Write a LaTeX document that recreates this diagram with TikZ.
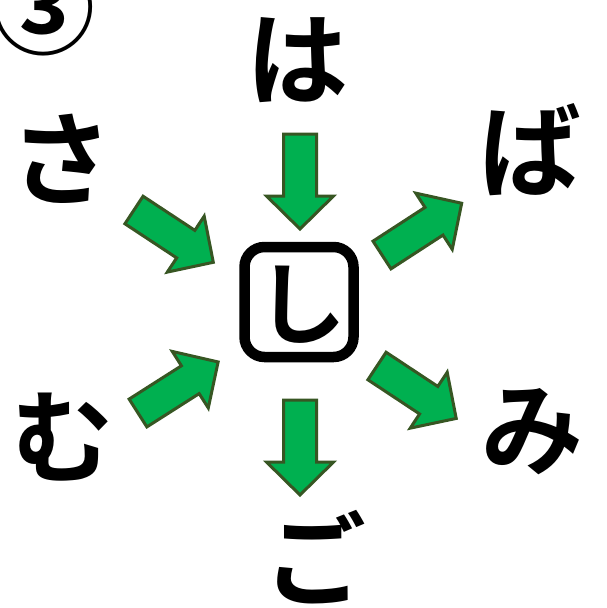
\documentclass[tikz,border=0pt]{standalone}
\usepackage{fontspec}
\newfontfamily\jp{Noto Sans CJK JP Bold}
\definecolor{arrowfill}{HTML}{00B050}
\definecolor{arrowline}{HTML}{375623}
\begin{document}
\begin{tikzpicture}[x=1pt,y=-1pt,
  kana/.style={inner sep=0pt,font=\jp\fontsize{102}{102}\selectfont},
  arrowstyle/.style={fill=arrowfill,draw=arrowline,line width=3pt,line join=miter},
  bigarrow/.pic={\path[arrowstyle] (0,-16.5) -- (62,-16.5) -- (62,-33.5) -- (95,0) -- (62,33.5) -- (62,16.5) -- (0,16.5) -- cycle;}
]
\useasboundingbox[fill=white] (0,0) rectangle (606,608);
% circled number
\node[inner sep=0pt,font=\jp\fontsize{104}{104}\selectfont] (num) at (43,7) {③};
% centre box
\draw[line width=10.5pt,rounded corners=20pt] (244.5,247) rectangle (353.5,357);
\node[kana,font=\jp\fontsize{90}{90}\selectfont] (shi) at (301,305) {し};
% surrounding kana
\node[kana] (ha) at (297,60) {は};
\node[kana] (sa) at (61,159) {さ};
\node[kana] (ba) at (530,150) {ば};
\node[kana] (mu) at (62,437) {む};
\node[kana] (mi) at (532,432) {み};
\node[kana] (go) at (315,557) {ご};
% arrows
\pic[rotate=-90] at (300,134) {bigarrow};
\pic[rotate=-90] at (300,400) {bigarrow};
\pic[rotate=-33.4] at (134,210) {bigarrow};
\pic[rotate=33] at (382,255) {bigarrow};
\pic[rotate=32.5] at (138,413) {bigarrow};
\pic[rotate=-33.5] at (377,366) {bigarrow};
\end{tikzpicture}
\end{document}
